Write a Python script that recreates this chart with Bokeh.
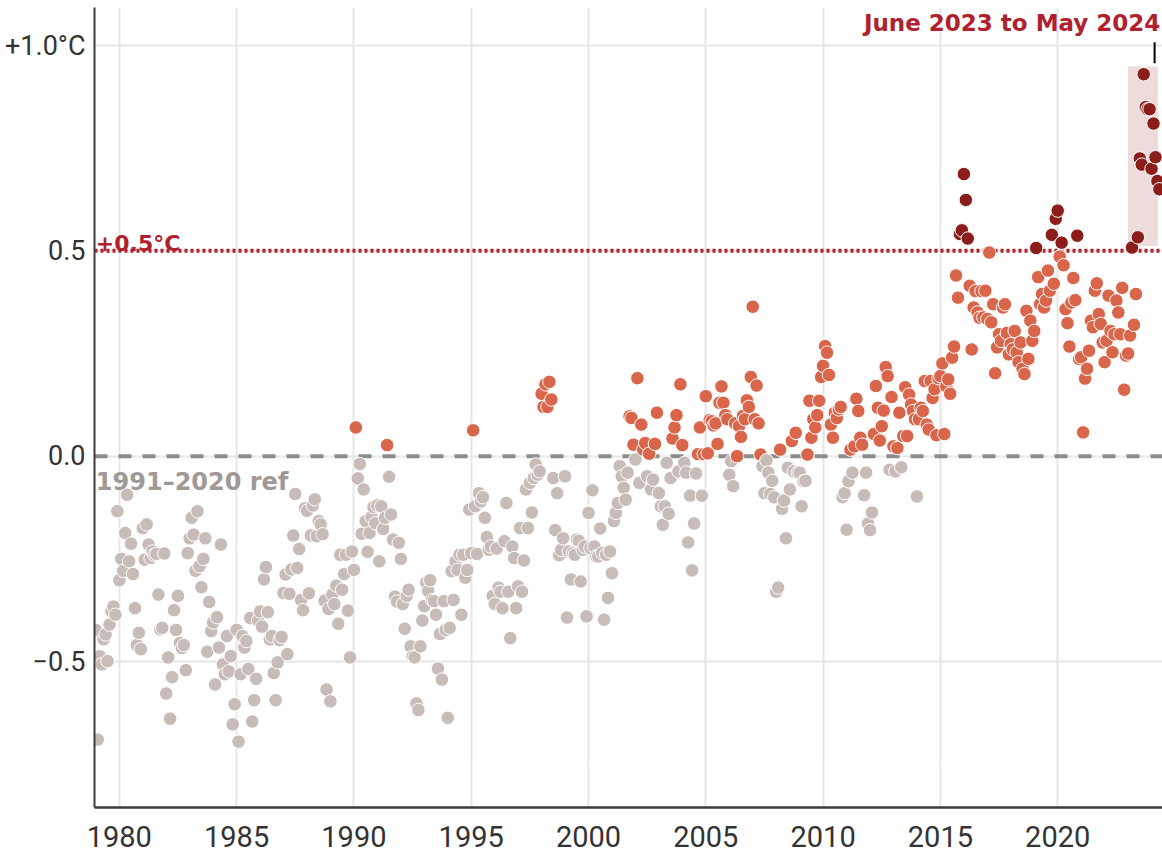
from bokeh.plotting import figure
from bokeh.models import (ColumnDataSource, Span, Label, FixedTicker,
                          CustomJSTickFormatter, Range1d)
from bokeh.embed import file_html
from bokeh.resources import INLINE

# ---------------- data (monthly global temperature anomaly, °C vs 1991-2020) ----------------
start_year = 1979

anom_1979_1989 = [
    -0.423, -0.69, -0.487, -0.507, -0.446, -0.434, -0.499, -0.41, -0.378, -0.366, -0.386, -0.134,  # 1979
    -0.302, -0.25, -0.279, -0.187, -0.094, -0.256, -0.213, -0.287, -0.37, -0.46, -0.43, -0.47,     # 1980
    -0.175, -0.252, -0.166, -0.215, -0.248, -0.232, -0.24, -0.238, -0.337, -0.422, -0.418, -0.237, # 1981
    -0.578, -0.49, -0.639, -0.538, -0.375, -0.423, -0.34, -0.455, -0.467, -0.46, -0.521, -0.236,   # 1982
    -0.2, -0.15, -0.191, -0.279, -0.134, -0.268, -0.319, -0.25, -0.2, -0.476, -0.355, -0.426,      # 1983
    -0.405, -0.556, -0.392, -0.466, -0.215, -0.507, -0.531, -0.438, -0.524, -0.487, -0.653, -0.604,# 1984
    -0.423, -0.695, -0.531, -0.438, -0.466, -0.45, -0.518, -0.394, -0.646, -0.594, -0.542, -0.40,  # 1985
    -0.378, -0.415, -0.30, -0.27, -0.38, -0.446, -0.438, -0.528, -0.594, -0.502, -0.448, -0.44,    # 1986
    -0.333, -0.288, -0.482, -0.335, -0.276, -0.193, -0.092, -0.272, -0.226, -0.35, -0.375, -0.127, # 1987
    -0.133, -0.334, -0.193, -0.12, -0.105, -0.195, -0.158, -0.166, -0.19, -0.352, -0.568, -0.372,  # 1988
    -0.597, -0.337, -0.36, -0.315, -0.408, -0.24, -0.325, -0.287, -0.24, -0.376, -0.49, -0.232,    # 1989
]
anom_1990_1999 = [
    -0.277, 0.07, -0.054, -0.019, -0.189, -0.081, -0.158, -0.233, -0.187, -0.148, -0.124, -0.163,  # 1990
    -0.12, -0.256, -0.122, -0.177, -0.15, 0.027, -0.05, -0.142, -0.203, -0.342, -0.354, -0.211,    # 1991
    -0.25, -0.36, -0.42, -0.34, -0.325, -0.463, -0.488, -0.49, -0.602, -0.618, -0.463, -0.40,      # 1992
    -0.365, -0.308, -0.328, -0.302, -0.35, -0.353, -0.386, -0.517, -0.433, -0.544, -0.353, -0.423, # 1993
    -0.637, -0.418, -0.28, -0.35, -0.256, -0.277, -0.24, -0.386, -0.24, -0.296, -0.277, -0.13,     # 1994
    -0.236, 0.063, -0.122, -0.238, -0.09, -0.11, -0.10, -0.15, -0.197, -0.228, -0.22, -0.34,       # 1995
    -0.36, -0.225, -0.32, -0.33, -0.37, -0.207, -0.114, -0.33, -0.443, -0.22, -0.248, -0.37,       # 1996
    -0.317, -0.175, -0.33, -0.254, -0.081, -0.175, -0.065, -0.137, -0.053, -0.02, -0.045, -0.037,  # 1997
    0.152, 0.12, 0.175, 0.12, 0.181, 0.138, -0.053, -0.18, -0.09, -0.241, -0.228, -0.20,           # 1998
    -0.049, -0.393, -0.232, -0.30, -0.236, -0.24, -0.203, -0.206, -0.305, -0.228, -0.22, -0.39,    # 1999
]
anom_2000_2009 = [
    -0.138, -0.224, -0.083, -0.22, -0.244, -0.244, -0.176, -0.236, -0.398, -0.24, -0.345, -0.232,  # 2000
    -0.285, -0.158, -0.138, -0.114, -0.024, -0.049, -0.077, -0.106, -0.04, 0.097, 0.093, 0.028,    # 2001
    -0.008, 0.19, -0.065, 0.077, 0.016, 0.032, -0.049, 0.006, -0.081, -0.057, 0.03, 0.106,         # 2002
    -0.09, -0.122, -0.167, -0.122, -0.016, -0.14, -0.053, 0.043, 0.07, 0.10, -0.037, 0.175,        # 2003
    0.027, -0.016, -0.04, -0.21, -0.096, -0.278, -0.164, -0.042, 0.005, 0.07, -0.096, 0.005,       # 2004
    0.146, 0.007, 0.088, 0.085, 0.075, 0.08, 0.03, 0.13, 0.17, 0.13, 0.10, 0.09,                   # 2005
    -0.045, -0.012, -0.073, 0.08, 0.00, 0.073, 0.047, 0.098, 0.09, 0.136, 0.12, 0.193,             # 2006
    0.364, 0.09, 0.172, 0.08, 0.004, -0.024, -0.09, -0.01, -0.04, -0.092, -0.06, -0.10,            # 2007
    -0.33, -0.32, 0.016, -0.128, -0.108, -0.2, -0.028, -0.081, 0.037, -0.037, 0.057, -0.04,        # 2008
    -0.04, -0.122, -0.061, -0.06, 0.004, 0.135, 0.045, 0.09, 0.07, 0.10, 0.135, 0.193,             # 2009
]
anom_2010_2019 = [
    0.22, 0.268, 0.252, 0.198, 0.077, 0.045, 0.106, 0.093, 0.114, 0.12, -0.10, -0.09,              # 2010
    -0.179, -0.061, 0.016, -0.04, 0.024, 0.14, 0.11, 0.045, 0.028, -0.095, -0.04, -0.164,          # 2011
    -0.18, -0.137, 0.054, 0.171, 0.118, 0.038, 0.073, 0.111, 0.217, 0.195, -0.033, 0.144,          # 2012
    0.024, -0.037, 0.02, 0.106, -0.027, 0.049, 0.168, 0.049, 0.15, 0.126, 0.11, 0.09,              # 2013
    -0.098, 0.09, 0.118, 0.11, 0.183, 0.077, 0.065, 0.183, 0.142, 0.163, 0.051, 0.19,              # 2014
    0.195, 0.226, 0.054, 0.17, 0.187, 0.152, 0.24, 0.267, 0.44, 0.386, 0.541, 0.55,                # 2015
    0.687, 0.624, 0.53, 0.415, 0.26, 0.362, 0.402, 0.35, 0.337, 0.402, 0.338, 0.403,               # 2016
    0.334, 0.496, 0.326, 0.37, 0.202, 0.265, 0.297, 0.281, 0.362, 0.37, 0.30, 0.248,               # 2017
    0.273, 0.26, 0.305, 0.253, 0.229, 0.277, 0.213, 0.20, 0.354, 0.237, 0.33, 0.281,               # 2018
    0.305, 0.507, 0.436, 0.37, 0.395, 0.362, 0.379, 0.452, 0.403, 0.539, 0.42, 0.578,              # 2019
]
anom_2020_2024 = [
    0.598, 0.486, 0.52, 0.465, 0.358, 0.324, 0.267, 0.374, 0.434, 0.38, 0.537, 0.237,              # 2020
    0.241, 0.058, 0.189, 0.213, 0.257, 0.33, 0.314, 0.403, 0.421, 0.346, 0.322, 0.277,             # 2021
    0.229, 0.281, 0.391, 0.305, 0.253, 0.297, 0.379, 0.35, 0.297, 0.41, 0.162, 0.245,              # 2022
    0.25, 0.294, 0.508, 0.32, 0.395, 0.533, 0.725, 0.71, 0.93, 0.85, 0.845, 0.845,                 # 2023
    0.70, 0.81, 0.728, 0.67, 0.65,                                                                  # 2024 (Jan-May)
]

x_ticks = [1980, 1985, 1990, 1995, 2000, 2005, 2010, 2015, 2020]
y_ticks = [-0.5, 0.0, 0.5, 1.0]
y_tick_labels = ["\u22120.5", "0.0", "0.5", "+1.0\u00b0C"]

ref_level = 0.0
threshold = 0.5
ref_text = "1991\u20132020 ref"
threshold_text = "+0.5\u00b0C"
highlight_text = "June 2023 to May 2024"
highlight_x = (2022.99, 2024.27)
highlight_y = (0.512, 0.949)

# ---------------- build ----------------
anomaly = anom_1979_1989 + anom_1990_1999 + anom_2000_2009 + anom_2010_2019 + anom_2020_2024
xs = [start_year + i / 12.0 for i in range(len(anomaly))]

GREY, ORANGE, DARK = "#c7bcb8", "#d9654b", "#8b1d1a"
colors = [DARK if v >= threshold else (ORANGE if v >= ref_level else GREY) for v in anomaly]
src = ColumnDataSource(dict(x=xs, y=anomaly, color=colors))

p = figure(width=1162, height=852, output_backend="svg", toolbar_location=None,
           x_range=Range1d(1978.943, 2024.467), y_range=Range1d(-0.8554, 1.0926),
           min_border_left=94, min_border_right=0, min_border_top=7, min_border_bottom=45)
p.outline_line_color = None
p.background_fill_color = "white"
p.border_fill_color = "white"

# axes
p.xaxis.ticker = FixedTicker(ticks=x_ticks)
p.yaxis.ticker = FixedTicker(ticks=y_ticks)
p.yaxis.formatter = CustomJSTickFormatter(args=dict(t=y_ticks, l=y_tick_labels), code="""
    for (let i = 0; i < t.length; i++) { if (Math.abs(tick - t[i]) < 1e-6) return l[i]; }
    return "";
""")
for ax in (p.xaxis[0], p.yaxis[0]):
    ax.axis_line_color = "#3d3d3d"
    ax.major_tick_line_color = None
    ax.minor_tick_line_color = None
    ax.major_label_text_font = "Roboto"
    ax.major_label_text_color = "#333333"
p.xaxis.axis_line_width = 2.5
p.yaxis.axis_line_width = 2
p.xaxis.major_label_text_font_size = "29px"
p.xaxis.major_label_text_line_height = 0.9
p.yaxis.major_label_text_font_size = "27px"
p.xaxis.major_label_standoff = 12
p.yaxis.major_label_standoff = 3

# grid
p.xgrid.ticker = FixedTicker(ticks=x_ticks)
p.ygrid.ticker = FixedTicker(ticks=y_ticks)
for g in (p.xgrid[0], p.ygrid[0]):
    g.grid_line_color = "#e6e6e6"
    g.grid_line_width = 2

# reference lines
p.add_layout(Span(location=ref_level, dimension="width", line_color="#8c8c8c",
                  line_width=4, line_dash="13 11", level="underlay"))
p.add_layout(Span(location=threshold, dimension="width", line_color="#b0202e",
                  line_width=4, line_dash="3 3", level="underlay"))

# highlight box
p.quad(left=[highlight_x[0]], right=[highlight_x[1]], bottom=[highlight_y[0]], top=[highlight_y[1]],
       fill_color="#eedcdc", line_color=None)

# points
p.scatter("x", "y", source=src, size=13.5, fill_color="color", line_color="white", line_width=1)

# leader tick
p.segment(x0=[2024.13], y0=[0.957], x1=[2024.13], y1=[1.008], line_color="black", line_width=2)

# annotations
p.add_layout(Label(x=1979.0, y=0.518, text=threshold_text, text_font="DejaVu Sans",
                   text_font_style="bold", text_font_size="22px", text_color="#b0202e",
                   text_baseline="alphabetic", text_align="left"))
p.add_layout(Label(x=1979.0, y=-0.063, text=ref_text, text_font="DejaVu Sans",
                   text_font_style="bold", text_font_size="24px", text_color="#a19997",
                   text_baseline="alphabetic", text_align="left"))
p.add_layout(Label(x=2011.74, y=1.0544, text=highlight_text, text_font="DejaVu Sans",
                   text_font_style="bold", text_font_size="23px", text_color="#b0202e",
                   text_baseline="alphabetic", text_align="left"))

open("out.html", "w").write(file_html(p, INLINE, title="Temperature anomalies"))
